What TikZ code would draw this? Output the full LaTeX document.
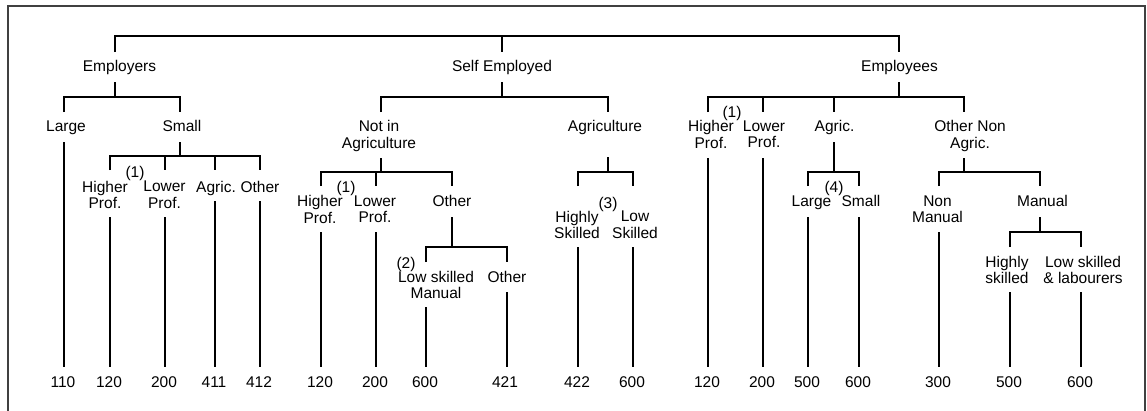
\documentclass[tikz,border=0pt]{standalone}
\usepackage{fontspec}
\setmainfont{Liberation Sans}
\begin{document}
\begin{tikzpicture}[x=1pt,y=-1pt,
  lbl/.style={inner sep=0pt, anchor=north, yshift=11.1pt, align=center,
              font=\fontsize{15.5}{16.5}\selectfont},
  num/.style={inner sep=0pt, anchor=base, outer ysep=9pt,
              font=\fontsize{15.5}{16.5}\selectfont},
  ln/.style={line width=1.1pt},
  frame/.style={line width=1.3pt, draw=black!75}]
\useasboundingbox (0,0) rectangle (1147,410);
\draw[frame] (8,415) -- (8,6) -- (1145,6) -- (1145,415);

% ---------- labels ----------
\node[lbl] (emp) at (119.5,71) {Employers};
\node[lbl] (se)  at (502,71)   {Self Employed};
\node[lbl] (ee)  at (899.5,71) {Employees};

\node[lbl] (large) at (66,131.5)  {Large};
\node[lbl] (small) at (182,131.5) {Small};
\node[lbl] (nia)   at (379,131.5) {Not in\\Agriculture};
\node[lbl] (agr)   at (605,131.5) {Agriculture};
\node[lbl] (f1c)   at (732,117)   {(1)};
\node[lbl] (ehp)   at (711,131.5) {Higher\\Prof.};
\node[lbl] (elp)   at (764,131.5) {Lower\\Prof.};
\node[lbl] (eag)   at (834.5,131.5) {Agric.};
\node[lbl] (eon)   at (970,131.5) {Other Non\\Agric.};

\node[lbl] (f1a) at (135,177)   {(1)};
\node[lbl] (shp) at (105,192)   {Higher\\Prof.};
\node[lbl] (slp) at (164.5,192) {Lower\\Prof.};
\node[lbl] (sag) at (216,192)   {Agric.};
\node[lbl] (sot) at (260,192)   {Other};

\node[lbl] (f1b) at (346,192)   {(1)};
\node[lbl] (nhp) at (320,206.5) {Higher\\Prof.};
\node[lbl] (nlp) at (375,206.5) {Lower\\Prof.};
\node[lbl] (not) at (452,206.5) {Other};

\node[lbl] (f2)  at (406,268) {(2)};
\node[lbl] (lsm) at (436,282) {Low skilled\\Manual};
\node[lbl] (oth) at (507,282) {Other};

\node[lbl] (f3) at (608,208) {(3)};
\node[lbl] (hs) at (577,222) {Highly\\Skilled};
\node[lbl] (ls) at (635,222) {Low\\Skilled};

\node[lbl] (f4)  at (834,192)     {(4)};
\node[lbl] (al)  at (811.5,206.5) {Large};
\node[lbl] (as)  at (861,206.5)   {Small};
\node[lbl] (nm)  at (937.5,206.5) {Non\\Manual};
\node[lbl] (man) at (1042.5,206.5) {Manual};

\node[lbl] (hsk) at (1007,267) {Highly\\skilled};
\node[lbl] (lsl) at (1083,267) {Low skilled\\\& labourers};

% ---------- numbers ----------
\node[num] (n1)  at (63,387)   {110};
\node[num] (n2)  at (109,387)  {120};
\node[num] (n3)  at (164,387)  {200};
\node[num] (n4)  at (214,387)  {411};
\node[num] (n5)  at (259,387)  {412};
\node[num] (n6)  at (320,387)  {120};
\node[num] (n7)  at (375,387)  {200};
\node[num] (n8)  at (425,387)  {600};
\node[num] (n9)  at (505,387)  {421};
\node[num] (n10) at (577,387)  {422};
\node[num] (n11) at (632,387)  {600};
\node[num] (n12) at (707,387)  {120};
\node[num] (n13) at (762,387)  {200};
\node[num] (n14) at (807,387)  {500};
\node[num] (n15) at (858,387)  {600};
\node[num] (n16) at (938,387)  {300};
\node[num] (n17) at (1009,387) {500};
\node[num] (n18) at (1080,387) {600};

% ---------- connectors ----------
% top level
\draw[ln] (115,52) |- (899,36) -- (899,52);
\draw[ln] (502,36) -- (502,52);
% Employers
\draw[ln] (115,82) -- (115,97);
\draw[ln] (64,112) |- (180,97) -- (180,112);
\draw[ln] (64,142) -- (64,367);
\draw[ln] (180,142) -- (180,156);
\draw[ln] (110,170) |- (260,156) -- (260,170);
\draw[ln] (165,156) -- (165,170);
\draw[ln] (215,156) -- (215,170);
\draw[ln] (110,217) -- (110,367);
\draw[ln] (165,217) -- (165,367);
\draw[ln] (215,201) -- (215,367);
\draw[ln] (260,201) -- (260,367);
% Self employed
\draw[ln] (502,82) -- (502,97);
\draw[ln] (381,112) |- (608,97) -- (608,112);
\draw[ln] (381,158) -- (381,172);
\draw[ln] (321,186) |- (452,172) -- (452,186);
\draw[ln] (376,172) -- (376,186);
\draw[ln] (321,232) -- (321,367);
\draw[ln] (376,232) -- (376,367);
\draw[ln] (452,217) -- (452,247);
\draw[ln] (426,262) |- (507,247) -- (507,262);
\draw[ln] (426,307) -- (426,367);
\draw[ln] (507,292) -- (507,367);
\draw[ln] (608,157) -- (608,172);
\draw[ln] (578,186) |- (633,172) -- (633,186);
\draw[ln] (578,247) -- (578,367);
\draw[ln] (633,247) -- (633,367);
% Employees
\draw[ln] (899,82) -- (899,97);
\draw[ln] (708,112) |- (964,97) -- (964,112);
\draw[ln] (763,97) -- (763,112);
\draw[ln] (834,97) -- (834,112);
\draw[ln] (708,158) -- (708,367);
\draw[ln] (763,158) -- (763,367);
\draw[ln] (834,142) -- (834,172);
\draw[ln] (808,186) |- (859,172) -- (859,186);
\draw[ln] (808,217) -- (808,367);
\draw[ln] (859,217) -- (859,367);
\draw[ln] (964,158) -- (964,172);
\draw[ln] (939,186) |- (1040,172) -- (1040,186);
\draw[ln] (939,232) -- (939,367);
\draw[ln] (1040,217) -- (1040,232);
\draw[ln] (1010,247) |- (1081,232) -- (1081,247);
\draw[ln] (1010,292) -- (1010,367);
\draw[ln] (1081,292) -- (1081,367);
\end{tikzpicture}
\end{document}
